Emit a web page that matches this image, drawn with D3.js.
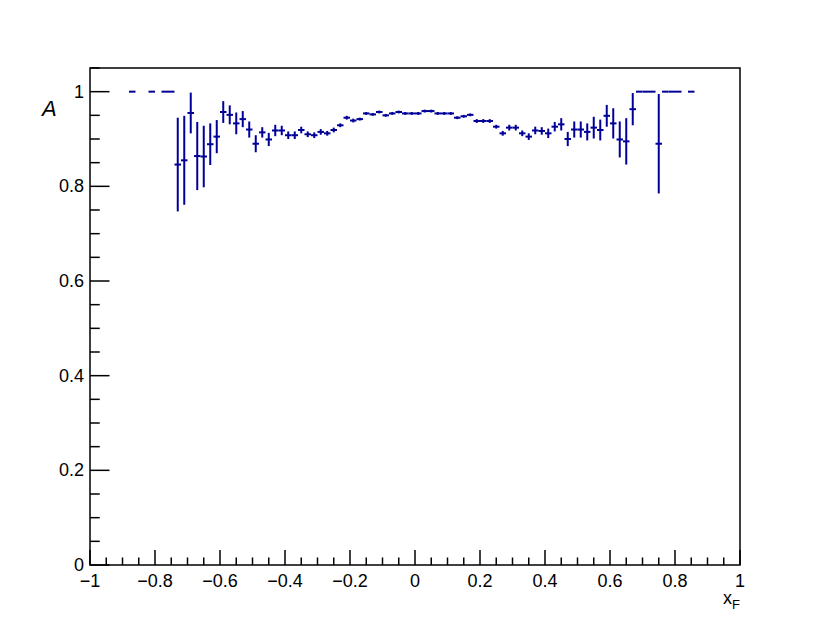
<!DOCTYPE html>
<html><head><meta charset="utf-8">
<script src="https://cdn.jsdelivr.net/npm/d3@7"></script>
<style>body{margin:0;background:#fff}text{font-family:"Liberation Sans",Arial,sans-serif}</style>
</head><body>
<svg id="c" width="830" height="634"></svg>
<script>
const binCenters = [-0.87,-0.81,-0.77,-0.75,-0.73,-0.71,-0.69,-0.67,-0.65,-0.63,-0.61,-0.59,-0.57,-0.55,-0.53,-0.51,-0.49,-0.47,-0.45,-0.43,-0.41,-0.39,-0.37,-0.35,-0.33,-0.31,-0.29,-0.27,-0.25,-0.23,-0.21,-0.19,-0.17,-0.15,-0.13,-0.11,-0.09,-0.07,-0.05,-0.03,-0.01,0.01,0.03,0.05,0.07,0.09,0.11,0.13,0.15,0.17,0.19,0.21,0.23,0.25,0.27,0.29,0.31,0.33,0.35,0.37,0.39,0.41,0.43,0.45,0.47,0.49,0.51,0.53,0.55,0.57,0.59,0.61,0.63,0.65,0.67,0.69,0.71,0.73,0.75,0.77,0.79,0.81,0.85];
const values = [1,1,1,1,0.846,0.855,0.955,0.864,0.863,0.889,0.905,0.957,0.951,0.933,0.942,0.920,0.890,0.914,0.899,0.918,0.918,0.908,0.908,0.919,0.910,0.908,0.915,0.912,0.919,0.929,0.945,0.939,0.942,0.954,0.952,0.957,0.950,0.954,0.957,0.954,0.954,0.954,0.959,0.959,0.954,0.954,0.954,0.945,0.948,0.951,0.938,0.938,0.938,0.926,0.912,0.924,0.924,0.912,0.905,0.918,0.917,0.912,0.926,0.931,0.900,0.920,0.920,0.915,0.924,0.919,0.949,0.933,0.899,0.895,0.963,1,1,1,0.890,1,1,1,1];
const errors = [0,0,0,0,0.099,0.094,0.043,0.072,0.065,0.044,0.035,0.023,0.020,0.023,0.017,0.017,0.018,0.011,0.014,0.012,0.010,0.008,0.008,0.007,0.006,0.006,0.006,0.005,0.005,0.004,0.004,0.004,0.003,0.003,0.003,0.003,0.003,0.003,0.003,0.003,0.003,0.003,0.003,0.003,0.003,0.003,0.003,0.003,0.003,0.003,0.004,0.004,0.004,0.004,0.005,0.006,0.006,0.006,0.007,0.008,0.008,0.010,0.010,0.013,0.015,0.017,0.017,0.018,0.023,0.022,0.023,0.032,0.038,0.049,0.034,0,0,0,0.105,0,0,0,0];
const binWidth = 0.02;
const xTickLabels = ["\u22121","\u22120.8","\u22120.6","\u22120.4","\u22120.2","0","0.2","0.4","0.6","0.8","1"];
const xTickValues = [-1,-0.8,-0.6,-0.4,-0.2,0,0.2,0.4,0.6,0.8,1];
const yTickValues = [0,0.2,0.4,0.6,0.8,1];
const yTickLabels = ["0","0.2","0.4","0.6","0.8","1"];

const L=90,R=740,T=68,B=565;
const svg=d3.select("#c");
svg.append("rect").attr("width",830).attr("height",634).attr("fill","#fff");
const x=d3.scaleLinear().domain([-1,1]).range([L,R]);
const y=d3.scaleLinear().domain([0,1.05]).range([B,T]);

// frame
svg.append("rect").attr("x",L).attr("y",T).attr("width",R-L).attr("height",B-T)
  .attr("fill","none").attr("stroke","#000").attr("stroke-width",1.5);

// x ticks
const xMinor=d3.range(-1,1.0001,0.05);
const gx=svg.append("g");
gx.selectAll("line").data(xMinor).join("line")
  .attr("x1",d=>x(d)).attr("x2",d=>x(d))
  .attr("y1",B).attr("y2",d=>Math.abs(Math.round(d*100)%20)===0?B-15:B-7.5)
  .attr("stroke","#000").attr("stroke-width",1.5);
gx.selectAll("text").data(xTickValues).join("text")
  .attr("x",d=>x(d)).attr("y",B+22).attr("text-anchor","middle")
  .attr("font-size",18).text((d,i)=>xTickLabels[i]);

// y ticks
const yMinor=d3.range(0,1.0501,0.05);
const gy=svg.append("g");
gy.selectAll("line").data(yMinor).join("line")
  .attr("y1",d=>y(d)).attr("y2",d=>y(d))
  .attr("x1",L).attr("x2",d=>Math.abs(Math.round(d*100)%20)===0?L+19.5:L+9.75)
  .attr("stroke","#000").attr("stroke-width",1.5);
gy.selectAll("text").data(yTickValues).join("text")
  .attr("x",L-6).attr("y",d=>y(d)).attr("dy","0.34em").attr("text-anchor","end")
  .attr("font-size",18).text((d,i)=>yTickLabels[i]);

// titles
const xt=svg.append("text").attr("x",740).attr("y",604).attr("text-anchor","end").attr("font-size",18);
xt.append("tspan").text("x");
xt.append("tspan").attr("font-size",13).attr("dy",5).text("F");
svg.append("text").attr("x",42).attr("y",116).attr("font-size",22).attr("font-style","italic").text("A");

// data
const col="#000099";
const pts=binCenters.map((c,i)=>({c,v:values[i],e:errors[i]}));
const g=svg.append("g").attr("stroke",col).attr("stroke-width",2).attr("fill","none");
g.selectAll(".h").data(pts).join("line").attr("class","h")
  .attr("x1",d=>x(d.c-binWidth/2)).attr("x2",d=>x(d.c+binWidth/2))
  .attr("y1",d=>y(d.v)).attr("y2",d=>y(d.v));
g.selectAll(".v").data(pts.filter(d=>d.e>0)).join("line").attr("class","v")
  .attr("x1",d=>x(d.c)).attr("x2",d=>x(d.c))
  .attr("y1",d=>y(d.v-d.e)).attr("y2",d=>y(d.v+d.e));
</script>
</body></html>
